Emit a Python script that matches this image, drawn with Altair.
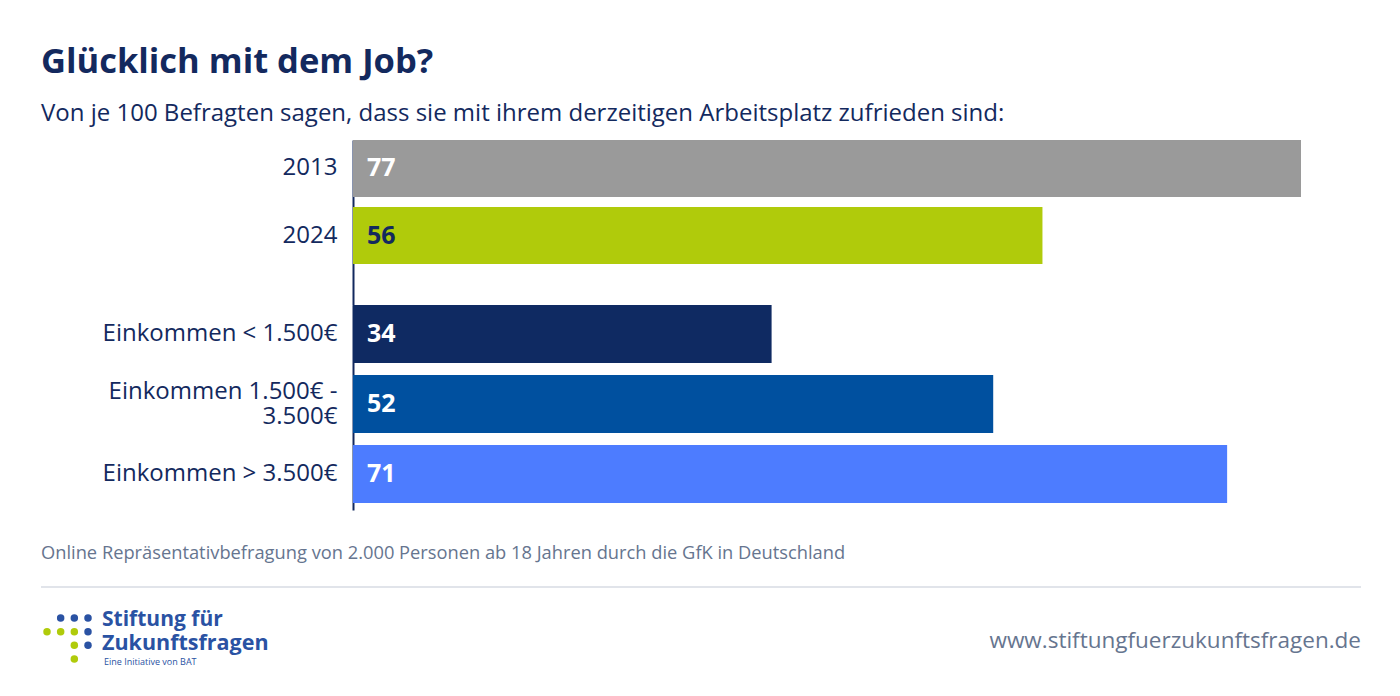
import altair as alt
import pandas as pd

FONT = "Open Sans"
NAVY = "#13295e"
GREY_TEXT = "#66758f"
LOGO_BLUE = "#2a52a3"
LOGO_GREEN = "#b0cb0b"

# data
years = ["2013", "2024"]
year_values = [77, 56]
year_colors = ["#9a9a9a", "#b0cb0b"]

incomes = ["Einkommen < 1.500€", "Einkommen 1.500€ -\n3.500€", "Einkommen > 3.500€"]
income_values = [34, 52, 71]
income_colors = ["#0f2a62", "#00509f", "#4d7cff"]

# logo dot grid (column, row)
logo_blue = [(1, 0), (2, 0), (3, 0), (3, 1), (3, 2)]
logo_green = [(0, 1), (1, 1), (2, 1), (2, 2), (2, 3)]

X_SCALE = alt.Scale(domain=[0, 77], nice=False, zero=True)


def note(text, x, y, size, color, weight="normal", align="left"):
    return alt.Chart(pd.DataFrame({"t": [text]})).mark_text(
        align=align, baseline="alphabetic", font=FONT, fontSize=size,
        fontWeight=weight, color=color
    ).encode(text="t:N", x=alt.value(x), y=alt.value(y))


def bar_panel(cats, values, colors, height, y_scale, dark_label=None):
    df = pd.DataFrame({"cat": cats, "value": values})
    base = alt.Chart(df).encode(
        y=alt.Y("cat:N", sort=cats, scale=y_scale, title=None,
                axis=alt.Axis(labelExpr="split(datum.label, '\\n')",
                              labelFont=FONT, labelFontSize=24, labelColor=NAVY,
                              labelPadding=16, labelLimit=0, ticks=False, grid=False,
                              domainColor=NAVY, domainWidth=2, labelLineHeight=25,
                              labelOffset={"condition": {"test": "length(split(datum.value, '\\n')) > 1",
                                                         "value": -12},
                                           "value": 0})),
    )
    bars = base.mark_bar().encode(
        x=alt.X("value:Q", scale=X_SCALE, axis=None),
        color=alt.Color("cat:N", scale=alt.Scale(domain=cats, range=colors), legend=None),
    )
    if dark_label is not None:
        label_color = alt.condition(alt.datum.cat == dark_label, alt.value(NAVY), alt.value("white"))
    else:
        label_color = alt.value("white")
    labels = base.mark_text(
        align="left", baseline="middle", font=FONT, fontSize=25, fontWeight="bold"
    ).encode(x=alt.value(14), text="value:Q", color=label_color)
    return alt.layer(bars, labels).properties(width=948, height=height)


top = alt.layer(
    bar_panel(years, year_values, year_colors, 165,
              alt.Scale(paddingInner=0.15, paddingOuter=0.306, align=0), dark_label="2024"),
    note("Glücklich mit dem Job?", -312, -67, 34.5, NAVY, weight="bold"),
    note("Von je 100 Befragten sagen, dass sie mit ihrem derzeitigen Arbeitsplatz zufrieden sind:",
         -312, -19, 24, NAVY),
).properties(width=948, height=165)

dots = pd.DataFrame(
    [{"col": c, "row": r, "kind": "blue"} for c, r in logo_blue]
    + [{"col": c, "row": r, "kind": "green"} for c, r in logo_green]
)
logo_dots = alt.Chart(dots).mark_circle(size=56, opacity=1).encode(
    x=alt.X("col:Q", scale=alt.Scale(domain=[0, 3], range=[-306, -265]), axis=None),
    y=alt.Y("row:Q", scale=alt.Scale(domain=[0, 3], range=[313, 354]), axis=None),
    color=alt.Color("kind:N", scale=alt.Scale(domain=["blue", "green"], range=[LOGO_BLUE, LOGO_GREEN]),
                    legend=None),
)

divider = alt.Chart(pd.DataFrame({"a": [0]})).mark_rule(color="#e1e4ea", strokeWidth=2).encode(
    x=alt.value(-312), x2=alt.value(1008), y=alt.value(282)
)

bottom = alt.layer(
    bar_panel(incomes, income_values, income_colors, 205,
              alt.Scale(paddingInner=0.17, paddingOuter=0.05, align=0)),
    note("Online Repräsentativbefragung von 2.000 Personen ab 18 Jahren durch die GfK in Deutschland",
         -312, 254, 18.3, GREY_TEXT),
    divider,
    logo_dots,
    note("Stiftung für", -251, 321, 21, LOGO_BLUE, weight="bold"),
    note("Zukunftsfragen", -251, 345, 21.5, LOGO_BLUE, weight="bold"),
    note("Eine Initiative von BAT", -249, 360, 9, LOGO_BLUE),
    note("www.stiftungfuerzukunftsfragen.de", 1008, 343, 22.5, GREY_TEXT, align="right"),
).resolve_scale(x="independent", y="independent", color="independent").properties(width=948, height=205)

chart = alt.vconcat(top, bottom, spacing=0).properties(
    padding={"left": 32, "top": 37, "right": 10, "bottom": 10},
    background="white",
).configure_view(stroke=None)

chart.save("out.html", embed_options={"renderer": "svg", "actions": False})
